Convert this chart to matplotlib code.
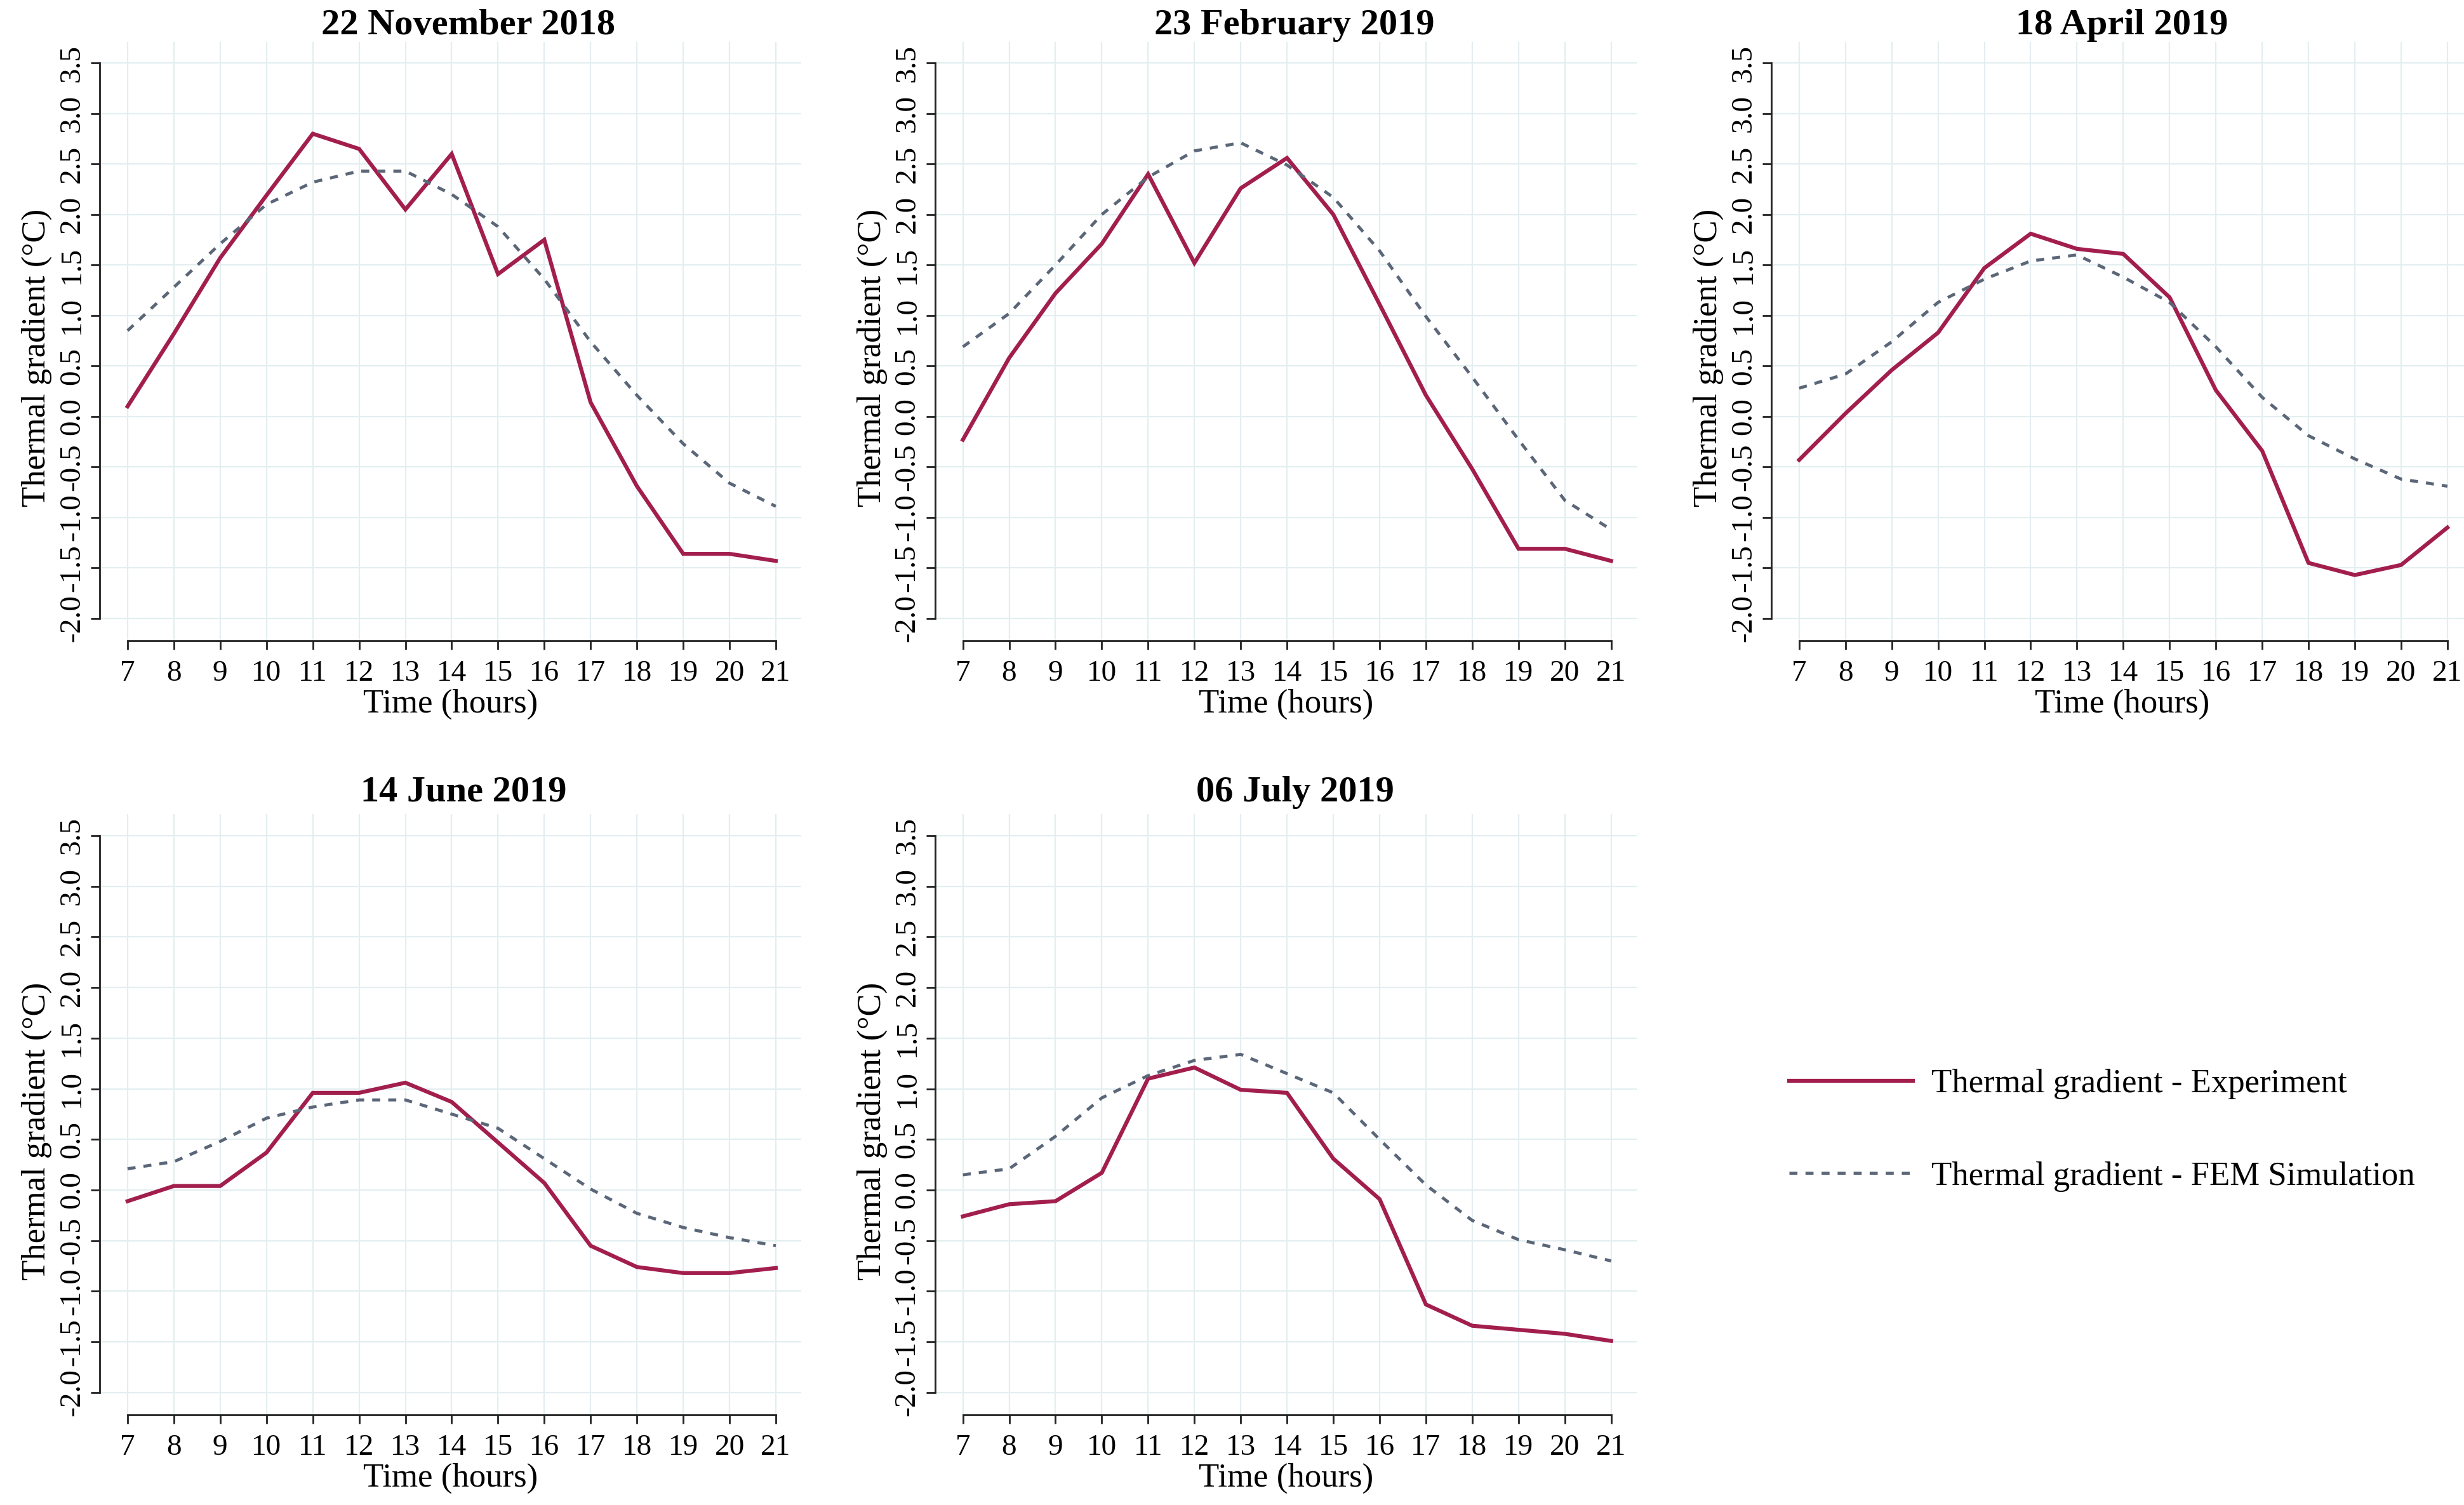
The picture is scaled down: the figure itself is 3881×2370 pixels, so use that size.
import matplotlib
matplotlib.use("Agg")
import matplotlib.pyplot as plt

plt.rcParams['font.family'] = ['Liberation Serif', 'DejaVu Serif']
plt.rcParams['axes.unicode_minus'] = False

# hours of the day (x axis)
hours = list(range(7, 22))

titles = ["22 November 2018", "23 February 2019", "18 April 2019",
          "14 June 2019", "06 July 2019"]

# thermal gradient (°C)
exp_nov = [0.10, 0.82, 1.57, 2.19, 2.80, 2.65, 2.05, 2.60, 1.41, 1.75, 0.14, -0.69, -1.36, -1.36, -1.43]
fem_nov = [0.85, 1.28, 1.71, 2.10, 2.32, 2.43, 2.43, 2.20, 1.88, 1.36, 0.74, 0.21, -0.27, -0.66, -0.89]

exp_feb = [-0.23, 0.58, 1.22, 1.71, 2.40, 1.52, 2.26, 2.56, 2.00, 1.11, 0.21, -0.52, -1.31, -1.31, -1.43]
fem_feb = [0.69, 1.02, 1.50, 2.00, 2.37, 2.63, 2.71, 2.49, 2.17, 1.64, 0.99, 0.39, -0.23, -0.83, -1.12]

exp_apr = [-0.43, 0.03, 0.46, 0.83, 1.47, 1.81, 1.66, 1.61, 1.18, 0.26, -0.34, -1.45, -1.57, -1.47, -1.10]
fem_apr = [0.28, 0.42, 0.74, 1.13, 1.36, 1.54, 1.60, 1.38, 1.13, 0.69, 0.19, -0.19, -0.42, -0.62, -0.69]

exp_jun = [-0.11, 0.04, 0.04, 0.37, 0.96, 0.96, 1.06, 0.87, 0.47, 0.07, -0.55, -0.76, -0.82, -0.82, -0.77]
fem_jun = [0.21, 0.28, 0.48, 0.71, 0.82, 0.89, 0.89, 0.75, 0.61, 0.31, 0.01, -0.23, -0.37, -0.47, -0.55]

exp_jul = [-0.26, -0.14, -0.11, 0.17, 1.10, 1.21, 0.99, 0.96, 0.31, -0.09, -1.13, -1.34, -1.38, -1.42, -1.49]
fem_jul = [0.15, 0.21, 0.53, 0.91, 1.13, 1.28, 1.34, 1.15, 0.96, 0.50, 0.05, -0.30, -0.49, -0.59, -0.70]

experiment = [exp_nov, exp_feb, exp_apr, exp_jun, exp_jul]
simulation = [fem_nov, fem_feb, fem_apr, fem_jun, fem_jul]

yticks = [-2.0, -1.5, -1.0, -0.5, 0.0, 0.5, 1.0, 1.5, 2.0, 2.5, 3.0, 3.5]

EXP_COLOR = '#A21E4D'
FEM_COLOR = '#5B6778'
GRID_COLOR = '#E3EEF0'

fig = plt.figure(figsize=(38.81, 23.70), dpi=100)

# axes rectangles [left, bottom, width, height] in figure fractions
rects = [
    [0.0405, 0.5743, 0.2847, 0.3979],
    [0.3795, 0.5743, 0.2847, 0.3979],
    [0.7189, 0.5743, 0.2847, 0.3979],
    [0.0405, 0.0599, 0.2847, 0.3990],
    [0.3795, 0.0599, 0.2847, 0.3990],
]
title_pads = [6, 6, 6, 15, 15]
title_x = [0.525, 0.512, 0.50, 0.519, 0.513]

for i in range(5):
    ax = fig.add_axes(rects[i])
    ax.plot(hours, experiment[i], color=EXP_COLOR, lw=4.5, solid_joinstyle='miter',
            label='Thermal gradient - Experiment', zorder=3)
    ax.plot(hours, simulation[i], color=FEM_COLOR, lw=3.5, dashes=(2.6, 2.6),
            label='Thermal gradient - FEM Simulation', zorder=3)

    ax.set_xlim(6.4, 21.55)
    ax.set_ylim(-2.22, 3.71)
    ax.set_xticks(hours)
    ax.set_yticks(yticks)
    ax.set_yticklabels(['%.1f' % v for v in yticks])
    ax.grid(True, color=GRID_COLOR, lw=1.6, zorder=0)
    ax.set_axisbelow(True)

    for s in ['top', 'right']:
        ax.spines[s].set_visible(False)
    ax.spines['left'].set_bounds(-2.0, 3.5)
    ax.spines['bottom'].set_bounds(7, 21)
    for s in ['left', 'bottom']:
        ax.spines[s].set_linewidth(2.0)
        ax.spines[s].set_color('#222222')

    ax.tick_params(axis='x', length=10, width=2, pad=12, labelsize=34, color='#222222')
    ax.tick_params(axis='y', length=10, width=2, pad=6, labelsize=34, color='#222222',
                   labelrotation=90)
    for lab in ax.get_yticklabels():
        lab.set_verticalalignment('center')

    ax.set_title(titles[i], fontsize=42, fontweight='bold', pad=title_pads[i], x=title_x[i])
    ax.set_xlabel('Time (hours)', fontsize=38, labelpad=2)
    ax.set_ylabel('Thermal gradient (°C)', fontsize=38)
    ax.yaxis.set_label_coords(-0.068, 0.472)

handles, labels = ax.get_legend_handles_labels()
fig.legend(handles, labels, loc='center left', bbox_to_anchor=(0.726, 0.249),
           frameon=False, fontsize=38, handlelength=3.7, handletextpad=0.55,
           labelspacing=1.85, borderpad=0, borderaxespad=0)

fig.savefig('out.png', dpi=100)
